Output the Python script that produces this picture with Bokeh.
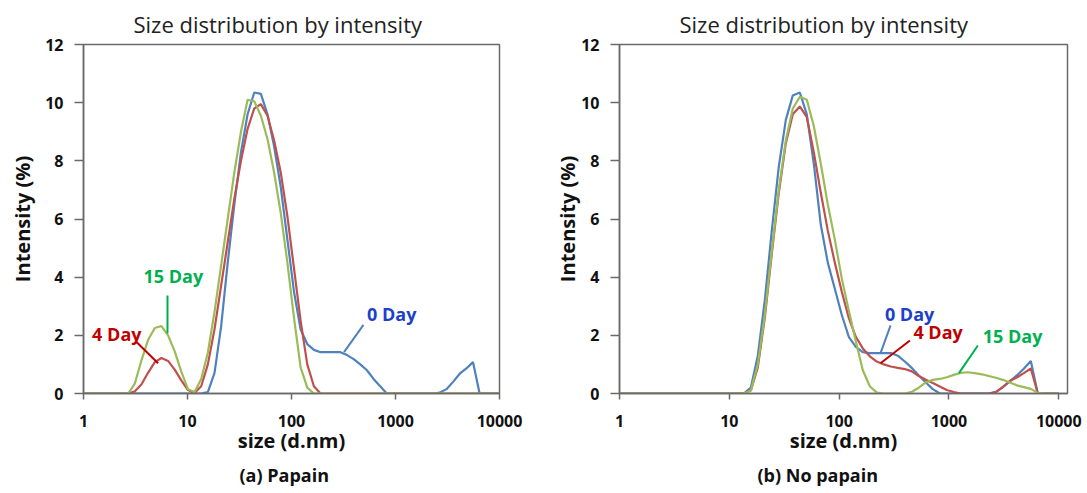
from bokeh.plotting import figure
from bokeh.layouts import row
from bokeh.models import Range1d, FixedTicker, PrintfTickFormatter, Title, Label
from bokeh.embed import file_html
from bokeh.resources import INLINE

# Size bins (d.nm)
sizes = [0.9649, 1.117, 1.294, 1.499, 1.736, 2.01, 2.328, 2.696, 3.122, 3.615,
         4.187, 4.849, 5.615, 6.503, 7.531, 8.721, 10.1, 11.7, 13.54, 15.69,
         18.17, 21.04, 24.36, 28.21, 32.67, 37.84, 43.82, 50.75, 58.77, 68.06,
         78.82, 91.28, 105.7, 122.4, 141.8, 164.2, 190.1, 220.2, 255.0, 295.3,
         342.0, 396.1, 458.7, 531.2, 615.1, 712.4, 825.0, 955.4, 1106, 1281,
         1484, 1718, 1990, 2305, 2669, 3091, 3580, 4145, 4801, 5560,
         6439, 7456, 8635, 10000]

# (a) Papain
blue_a = [0, 0, 0, 0, 0, 0, 0, 0, 0, 0, 0, 0, 0, 0, 0, 0, 0, 0, 0,
          0.05, 0.7, 2.3, 4.5, 6.5, 8.3, 9.6, 10.35, 10.3, 9.6, 8.5, 7.1, 5.3, 3.5, 2.2,
          1.7, 1.5, 1.42, 1.42, 1.42, 1.42, 1.32, 1.18, 1.0, 0.8, 0.5, 0.25,
          0, 0, 0, 0, 0, 0, 0, 0,
          0.03, 0.15, 0.4, 0.68, 0.86, 1.08,
          0, 0, 0, 0]
red_a = [0, 0, 0, 0, 0, 0, 0, 0,
         0.08, 0.32, 0.72, 1.08, 1.22, 1.12, 0.82, 0.45, 0.12, 0.02,
         0.25, 1.0, 2.2, 3.7, 5.2, 6.7, 8.0, 9.1, 9.8, 9.95, 9.55, 8.7, 7.6, 6.1, 4.3, 2.5, 1.0, 0.25,
         0, 0, 0, 0, 0, 0, 0, 0, 0, 0, 0, 0, 0, 0, 0, 0, 0, 0, 0, 0, 0, 0, 0, 0, 0, 0, 0, 0]
green_a = [0, 0, 0, 0, 0, 0, 0, 0,
           0.35, 1.15, 1.85, 2.25, 2.32, 2.0, 1.45, 0.75, 0.15, 0.05,
           0.5, 1.4, 2.8, 4.4, 6.0, 7.6, 9.0, 10.1, 10.05, 9.55, 8.75, 7.6, 6.2, 4.5, 2.6, 0.9, 0.2,
           0, 0, 0, 0, 0, 0, 0, 0, 0, 0, 0, 0, 0, 0, 0, 0, 0, 0, 0, 0, 0, 0, 0, 0, 0, 0, 0, 0, 0]

# (b) No papain
blue_b = [0, 0, 0, 0, 0, 0, 0, 0, 0, 0, 0, 0, 0, 0, 0, 0, 0, 0, 0,
          0.2, 1.3, 3.2, 5.6, 7.8, 9.4, 10.25, 10.35, 9.6, 7.9, 5.8, 4.5, 3.6, 2.7, 1.95,
          1.6, 1.42, 1.39, 1.39, 1.39, 1.39, 1.3, 1.1, 0.88, 0.62, 0.38, 0.15,
          0, 0, 0, 0, 0, 0, 0, 0,
          0.05, 0.22, 0.42, 0.62, 0.85, 1.12,
          0, 0, 0, 0]
red_b = [0, 0, 0, 0, 0, 0, 0, 0, 0, 0, 0, 0, 0, 0, 0, 0, 0, 0, 0,
         0.1, 0.9, 2.6, 4.8, 6.9, 8.6, 9.6, 9.87, 9.5, 8.3, 6.9, 5.6, 4.5, 3.5, 2.6,
         1.95, 1.55, 1.28, 1.1, 1.0, 0.93, 0.88, 0.84, 0.76, 0.6, 0.47, 0.36, 0.24, 0.12, 0.05,
         0, 0, 0, 0, 0,
         0.05, 0.22, 0.43, 0.55, 0.7, 0.86,
         0, 0, 0, 0]
green_b = [0, 0, 0, 0, 0, 0, 0, 0, 0, 0, 0, 0, 0, 0, 0, 0, 0, 0, 0,
           0.1, 1.0, 2.7, 4.9, 7.0, 8.7, 9.8, 10.2, 10.1, 9.2, 7.9, 6.5, 5.3, 3.95, 2.85,
           1.8, 0.8, 0.25, 0.03,
           0, 0, 0, 0,
           0.06, 0.2, 0.38, 0.47, 0.5, 0.56, 0.64, 0.71, 0.73, 0.7, 0.66, 0.6,
           0.54, 0.47, 0.38, 0.28, 0.22, 0.16, 0.02,
           0, 0, 0]

x_ticks = [1, 10, 100, 1000, 10000]
y_ticks = [0, 2, 4, 6, 8, 10, 12]

series_names = ["0 Day", "4 Day", "15 Day"]
line_colors = ["#4F81BD", "#C0504D", "#9BBB59"]
text_colors = ["#1C3FCC", "#C00000", "#00B050"]
leader_colors = ["#4F81BD", "#C00000", "#00B050"]

title_text = "Size distribution by intensity"
x_label_text = "size (d.nm)"
y_label_text = "Intensity (%)"

# annotation anchors (data space)
ann_a_x = [921, 2.09, 7.3]
ann_a_y = [2.72, 2.03, 4.04]
lead_a_x0 = [492, 3.25, 6.42]
lead_a_y0 = [2.36, 1.76, 3.37]
lead_a_x1 = [320, 5.21, 6.42]
lead_a_y1 = [1.42, 1.04, 2.07]

ann_b_x = [438, 796, 3795]
ann_b_y = [2.72, 2.13, 1.99]
lead_b_x0 = [294, 441, 1833]
lead_b_y0 = [2.34, 1.82, 1.65]
lead_b_x1 = [238, 238, 1232]
lead_b_y1 = [1.39, 1.04, 0.70]

FONT = "Open Sans"
AX = "#6a6a6a"


def make_panel(series, xmax, width, mb_left, mb_right, title_offset, caption,
               caption_offset, ylab_standoff, ax, ay, lx0, ly0, lx1, ly1):
    p = figure(width=width, height=492, x_axis_type="log",
               x_range=Range1d(1, xmax), y_range=Range1d(0, 12),
               output_backend="svg", toolbar_location=None,
               min_border_left=mb_left, min_border_right=mb_right,
               min_border_top=44, min_border_bottom=99)
    p.title.text = title_text
    p.title.align = "left"
    p.title.offset = title_offset
    p.title.text_font = FONT
    p.title.text_font_size = "22px"
    p.title.text_font_style = "normal"
    p.title.text_color = "#222222"
    p.title.standoff = 11

    p.xgrid.visible = False
    p.ygrid.visible = False
    p.outline_line_color = AX
    p.outline_line_width = 1.5

    p.xaxis.ticker = FixedTicker(ticks=x_ticks)
    p.xaxis.formatter = PrintfTickFormatter(format="%d")
    p.yaxis.ticker = FixedTicker(ticks=y_ticks)
    for axis in (p.xaxis, p.yaxis):
        axis.axis_line_color = AX
        axis.axis_line_width = 1.5
        axis.major_tick_line_color = AX
        axis.major_tick_line_width = 1.5
        axis.minor_tick_line_color = None
        axis.major_tick_in = 0
        axis.major_label_text_font = FONT
        axis.major_label_text_font_size = "16px"
        axis.major_label_text_font_style = "bold"
        axis.major_label_text_color = "#111111"
        axis.axis_label_text_font = FONT
        axis.axis_label_text_font_size = "20px"
        axis.axis_label_text_font_style = "bold"
        axis.axis_label_text_color = "#111111"
    p.yaxis.major_tick_out = 9
    p.xaxis.major_tick_out = 6
    p.yaxis.major_label_standoff = 11
    p.xaxis.major_label_standoff = 15
    p.xaxis.axis_label = x_label_text
    p.yaxis.axis_label = y_label_text
    p.xaxis.axis_label_standoff = -3
    p.yaxis.axis_label_standoff = ylab_standoff

    for vals, col in zip(series, line_colors):
        p.line(sizes, vals, line_color=col, line_width=2.2)

    p.segment(x0=lx0, y0=ly0, x1=lx1, y1=ly1, line_color=leader_colors,
              line_width=2)
    for name, x, y, c in zip(series_names, ax, ay, text_colors):
        p.add_layout(Label(x=x, y=y, text=name, text_align="center",
                           text_baseline="middle", text_font=FONT,
                           text_font_size="18px", text_font_style="bold",
                           text_color=c))

    cap = Title(text=caption, align="left", offset=caption_offset,
                text_font=FONT, text_font_size="18px",
                text_font_style="bold", text_color="#111111", standoff=9)
    p.add_layout(cap, "below")
    return p


p1 = make_panel([blue_a, red_a, green_a], 10000, 540, 83, 41, 50,
                "(a) Papain", 156, 6, ann_a_x, ann_a_y,
                lead_a_x0, lead_a_y0, lead_a_x1, lead_a_y1)
p2 = make_panel([blue_b, red_b, green_b], 12000, 547, 79, 20, 60,
                "(b) No papain", 138, -3, ann_b_x, ann_b_y,
                lead_b_x0, lead_b_y0, lead_b_x1, lead_b_y1)

layout = row(p1, p2)
open("out.html", "w").write(file_html(layout, INLINE))
